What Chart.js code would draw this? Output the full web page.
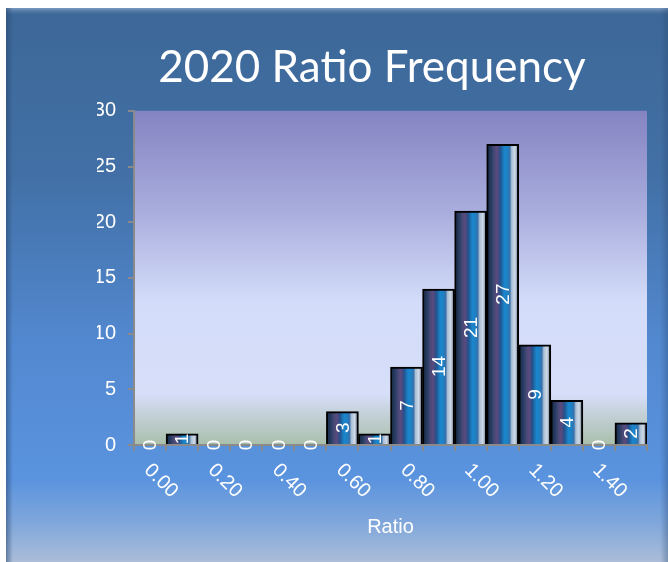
<!DOCTYPE html>
<html>
<head>
<meta charset="utf-8">
<script src="https://cdn.jsdelivr.net/npm/chart.js@4.4.1/dist/chart.umd.min.js"></script>
<style>
  html, body { margin: 0; padding: 0; background: #fff; }
  canvas { display: block; }
</style>
</head>
<body>
<canvas id="ratioChart" width="668" height="562"></canvas>
<script>
// histogram bins (ratio) and counts
const ratioBins = ['0.00', '0.10', '0.20', '0.30', '0.40', '0.50', '0.60', '0.70',
                   '0.80', '0.90', '1.00', '1.10', '1.20', '1.30', '1.40', '1.50'];
const frequencies = [0, 1, 0, 0, 0, 0, 3, 1, 7, 14, 21, 27, 9, 4, 0, 2];
const yTicks = [0, 5, 10, 15, 20, 25, 30];

const LABEL_FONT = '"Liberation Sans", Arial, sans-serif';

// striped "cylinder" look of each bar
function barFill(c) {
  const chart = c.chart;
  const xs = chart.scales.x;
  if (!xs || c.dataIndex == null) return '#1f5590';
  const w = xs.width / ratioBins.length;
  const x = xs.getPixelForValue(c.dataIndex);
  if (!Number.isFinite(w) || !Number.isFinite(x) || w <= 0) return '#1f5590';
  const g = chart.ctx.createLinearGradient(x - w / 2, 0, x + w / 2, 0);
  g.addColorStop(0, '#1a2840');
  g.addColorStop(0.12, '#22395e');
  g.addColorStop(0.25, '#4a4a78');
  g.addColorStop(0.33, '#5c4a7e');
  g.addColorStop(0.42, '#24508a');
  g.addColorStop(0.55, '#1a86cc');
  g.addColorStop(0.65, '#1e80c4');
  g.addColorStop(0.72, '#3a70a8');
  g.addColorStop(0.78, '#a8bed6');
  g.addColorStop(0.88, '#d0dae6');
  g.addColorStop(0.95, '#8898b0');
  g.addColorStop(1, '#607090');
  return g;
}

const backdrop = {
  id: 'backdrop',
  beforeDraw(chart) {
    const { ctx, chartArea: a, width, height } = chart;
    ctx.save();
    ctx.fillStyle = '#fff';
    ctx.fillRect(0, 0, width, height);

    // outer panel
    let g = ctx.createLinearGradient(0, 8, 0, height);
    g.addColorStop(0, '#3c6797');
    g.addColorStop(0.3, '#4270a6');
    g.addColorStop(0.6, '#5288cf');
    g.addColorStop(0.85, '#5a93de');
    g.addColorStop(0.93, '#80a7db');
    g.addColorStop(1, '#abbdd8');
    ctx.fillStyle = g;
    ctx.fillRect(6, 8, width - 6, height - 8);

    // bevel edges
    g = ctx.createLinearGradient(0, 8, 0, 16);
    g.addColorStop(0, '#7d9cc4');
    g.addColorStop(1, 'rgba(60,103,151,0)');
    ctx.fillStyle = g;
    ctx.fillRect(6, 8, width - 6, 8);
    g = ctx.createLinearGradient(6, 0, 13, 0);
    g.addColorStop(0, 'rgba(40,70,110,0.55)');
    g.addColorStop(1, 'rgba(40,70,110,0)');
    ctx.fillStyle = g;
    ctx.fillRect(6, 8, 7, height - 8);
    g = ctx.createLinearGradient(width - 8, 0, width, 0);
    g.addColorStop(0, 'rgba(40,70,110,0)');
    g.addColorStop(1, 'rgba(40,70,110,0.35)');
    ctx.fillStyle = g;
    ctx.fillRect(width - 8, 8, 8, height - 8);

    // plot area
    g = ctx.createLinearGradient(0, a.top, 0, a.bottom);
    g.addColorStop(0, '#8484c2');
    g.addColorStop(0.3, '#a9addd');
    g.addColorStop(0.57, '#d3dcf9');
    g.addColorStop(0.85, '#d6def8');
    g.addColorStop(0.9, '#c6d2dc');
    g.addColorStop(1, '#a9bfab');
    ctx.fillStyle = g;
    ctx.fillRect(a.left, a.top, a.right - a.left, a.bottom - a.top);
    ctx.restore();
  }
};

// count written vertically in the middle of each bar
const barValues = {
  id: 'barValues',
  afterDatasetsDraw(chart) {
    const { ctx } = chart;
    const meta = chart.getDatasetMeta(0);
    ctx.save();
    ctx.fillStyle = '#fff';
    ctx.font = '19px ' + LABEL_FONT;
    ctx.textAlign = 'center';
    ctx.textBaseline = 'middle';
    meta.data.forEach((bar, i) => {
      ctx.save();
      ctx.translate(bar.x + 1, (bar.y + bar.base) / 2);
      ctx.rotate(-Math.PI / 2);
      ctx.fillText(String(frequencies[i]), 0, 0);
      ctx.restore();
    });
    ctx.restore();
  }
};

// x labels slanting down to the right, every second bin
const slantLabels = {
  id: 'slantLabels',
  afterDraw(chart) {
    const { ctx } = chart;
    const xs = chart.scales.x;
    ctx.save();
    ctx.fillStyle = '#fff';
    ctx.font = '20px ' + LABEL_FONT;
    ctx.textAlign = 'left';
    ctx.textBaseline = 'middle';
    ratioBins.forEach((lab, i) => {
      if (i % 2) return;
      ctx.save();
      ctx.translate(xs.getPixelForValue(i) - 3, xs.top + 22);
      ctx.rotate(Math.PI / 4);
      ctx.fillText(lab, 0, 0);
      ctx.restore();
    });
    ctx.restore();
  }
};

new Chart(document.getElementById('ratioChart'), {
  type: 'bar',
  data: {
    labels: ratioBins,
    datasets: [{
      data: frequencies,
      backgroundColor: barFill,
      borderColor: '#000',
      borderWidth: 2,
      categoryPercentage: 1,
      barPercentage: 1
    }]
  },
  options: {
    responsive: false,
    animation: false,
    layout: { padding: { left: 97, right: 21, top: 0, bottom: 20 } },
    plugins: {
      legend: { display: false },
      tooltip: { enabled: false },
      title: {
        display: true,
        text: '2020 Ratio Frequency',
        color: '#fff',
        font: { family: 'Lato', size: 44, weight: 'normal' },
        padding: { top: 41, bottom: 17 }
      }
    },
    scales: {
      x: {
        ticks: { display: false },
        grid: { drawOnChartArea: false, color: '#8a8a8a', tickLength: 6, lineWidth: 2, offset: true },
        border: { color: '#8a8a8a', width: 2 },
        title: {
          display: true,
          text: 'Ratio',
          color: '#fff',
          font: { family: 'Liberation Sans', size: 20 },
          padding: { top: 0, bottom: 3 }
        },
        afterFit: s => { s.height = 97; }
      },
      y: {
        min: 0,
        max: 30,
        afterBuildTicks: s => { s.ticks = yTicks.map(v => ({ value: v })); },
        ticks: { color: '#fff', font: { family: 'Liberation Sans', size: 20 }, padding: 12 },
        grid: { drawOnChartArea: false, color: '#8a8a8a', tickLength: 6, lineWidth: 2 },
        border: { color: '#8a8a8a', width: 2 },
        afterFit: s => { s.width = 37; }
      }
    }
  },
  plugins: [backdrop, barValues, slantLabels]
});
</script>
</body>
</html>
